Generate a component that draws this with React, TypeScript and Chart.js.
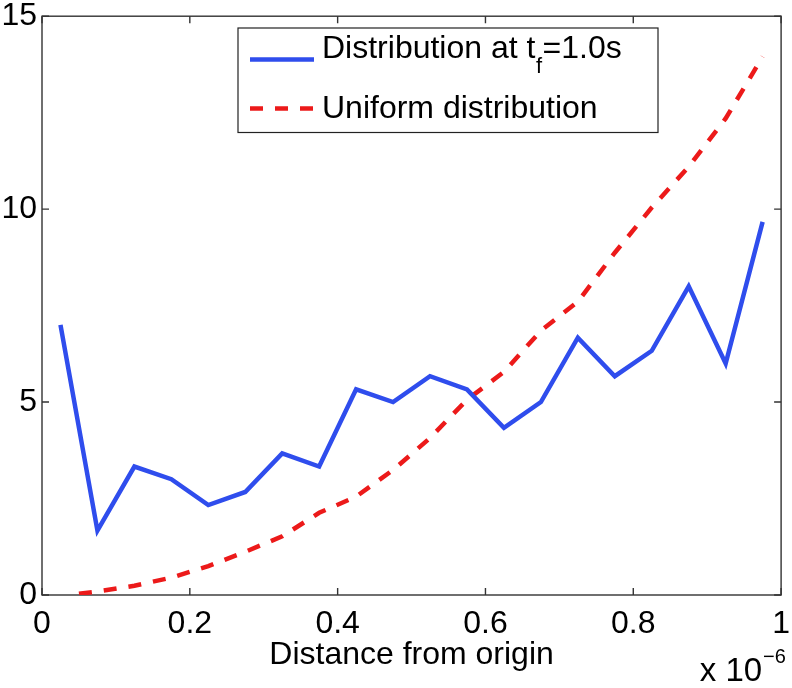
import React, { useEffect, useRef } from 'react';
import { Chart, registerables } from 'chart.js';

Chart.register(...registerables);

// Data (x in units of 1e-6 m)
const blueX = [0.025, 0.075, 0.125, 0.175, 0.225, 0.275, 0.325, 0.375, 0.425, 0.475, 0.525, 0.575, 0.625, 0.675, 0.725, 0.775, 0.825, 0.875, 0.925, 0.975];
const blueY = [7.0, 1.67, 3.33, 3.0, 2.33, 2.67, 3.67, 3.33, 5.33, 5.0, 5.67, 5.33, 4.33, 5.0, 6.67, 5.67, 6.33, 8.0, 6.0, 9.67];
const redX = [0.05, 0.075, 0.125, 0.175, 0.225, 0.275, 0.325, 0.375, 0.425, 0.475, 0.525, 0.575, 0.625, 0.675, 0.725, 0.775, 0.825, 0.875, 0.925, 0.975];
const redY = [0.03, 0.09, 0.24, 0.45, 0.75, 1.12, 1.52, 2.13, 2.55, 3.24, 4.07, 5.06, 5.78, 6.85, 7.6, 8.87, 10.04, 11.1, 12.35, 13.95];
const xTicks = [0, 0.2, 0.4, 0.6, 0.8, 1];
const yTicks = [0, 5, 10, 15];
const seriesLabels = ['Distribution at t_f=1.0s', 'Uniform distribution'];
const xTitle = 'Distance from origin';

const BLUE = '#2f4ded';
const RED = '#ec1a1a';
const FONT = '"Liberation Sans", Arial, Helvetica, sans-serif';
const AXIS = '#333333';
const FS = 32;

const framePlugin = {
  id: 'frame',
  beforeDatasetsDraw(chart: any) {
    const { ctx, chartArea: a, scales } = chart;
    ctx.save();
    ctx.strokeStyle = AXIS;
    ctx.lineWidth = 1.4;
    ctx.strokeRect(a.left, a.top, a.right - a.left, a.bottom - a.top);
    const tl = 7;
    ctx.beginPath();
    xTicks.forEach((v) => {
      const px = scales.x.getPixelForValue(v);
      ctx.moveTo(px, a.bottom);
      ctx.lineTo(px, a.bottom - tl);
      ctx.moveTo(px, a.top);
      ctx.lineTo(px, a.top + tl);
    });
    yTicks.forEach((v) => {
      const py = scales.y.getPixelForValue(v);
      ctx.moveTo(a.left, py);
      ctx.lineTo(a.left + tl, py);
      ctx.moveTo(a.right, py);
      ctx.lineTo(a.right - tl, py);
    });
    ctx.stroke();
    ctx.restore();
  },
  afterDraw(chart: any) {
    const { ctx, chartArea: a } = chart;
    ctx.save();
    // exponent label
    ctx.fillStyle = '#000';
    ctx.textBaseline = 'alphabetic';
    ctx.font = `${FS + 1}px ${FONT}`;
    ctx.textAlign = 'right';
    ctx.fillText('x 10', a.right - 19, 681);
    ctx.font = `20px ${FONT}`;
    ctx.textAlign = 'left';
    ctx.fillText('\u22126', a.right - 18, 663);

    // legend
    const ds = chart.data.datasets;
    const bx = 238, by = 28, bw = 420, bh = 104.5;
    ctx.fillStyle = '#fff';
    ctx.fillRect(bx, by, bw, bh);
    ctx.strokeStyle = '#222';
    ctx.lineWidth = 1.2;
    ctx.strokeRect(bx, by, bw, bh);

    ctx.lineWidth = ds[0].borderWidth;
    ctx.strokeStyle = ds[0].borderColor;
    ctx.setLineDash([]);
    ctx.beginPath();
    ctx.moveTo(250, 59.5);
    ctx.lineTo(314, 59.5);
    ctx.stroke();

    ctx.lineWidth = ds[1].borderWidth;
    ctx.strokeStyle = ds[1].borderColor;
    ctx.setLineDash(ds[1].borderDash);
    ctx.beginPath();
    ctx.moveTo(250, 108.5);
    ctx.lineTo(314, 108.5);
    ctx.stroke();
    ctx.setLineDash([]);

    ctx.fillStyle = '#000';
    ctx.textAlign = 'left';
    ctx.font = `${FS}px ${FONT}`;
    const [main, rest] = seriesLabels[0].split('_');
    const sub = rest.charAt(0);
    const tail = rest.slice(1);
    let tx = 322;
    ctx.fillText(main, tx, 57.5);
    tx += ctx.measureText(main).width + 0.5;
    ctx.font = `22px ${FONT}`;
    ctx.fillText(sub, tx, 73);
    tx += ctx.measureText(sub).width + 0.5;
    ctx.font = `${FS}px ${FONT}`;
    ctx.fillText(tail, tx, 57.5);
    ctx.fillText(seriesLabels[1], 322, 118);
    ctx.restore();
  },
};

export default function App() {
  const ref = useRef<HTMLCanvasElement>(null);
  useEffect(() => {
    document.body.style.margin = '0';
    const canvas = ref.current!;
    const chart = new Chart(canvas, {
      type: 'scatter',
      data: {
        datasets: [
          {
            label: seriesLabels[0],
            data: blueX.map((x, i) => ({ x, y: blueY[i] })),
            showLine: true,
            borderColor: BLUE,
            backgroundColor: BLUE,
            borderWidth: 4.5,
            pointRadius: 0,
            tension: 0,
            fill: false,
          },
          {
            label: seriesLabels[1],
            data: redX.map((x, i) => ({ x, y: redY[i] })),
            showLine: true,
            borderColor: RED,
            backgroundColor: RED,
            borderWidth: 4.5,
            borderDash: [13, 12],
            pointRadius: 0,
            tension: 0,
            fill: false,
          },
        ],
      },
      options: {
        animation: false,
        responsive: false,
        maintainAspectRatio: false,
        layout: { padding: { top: 7, right: 3, left: 0, bottom: 0 } },
        plugins: {
          legend: { display: false },
          tooltip: { enabled: false },
        },
        scales: {
          x: {
            type: 'linear',
            min: 0,
            max: 1,
            grid: { display: false },
            border: { display: false },
            afterFit: (s: any) => { s.height = 93; },
            afterBuildTicks: (s: any) => { s.ticks = xTicks.map((v) => ({ value: v })); },
            ticks: {
              padding: 2,
              color: '#000',
              font: { family: FONT, size: FS },
              maxRotation: 0,
              autoSkip: false,
              callback: (v: any) => String(Number(Number(v).toFixed(1))),
            },
            title: {
              display: true,
              text: xTitle,
              color: '#000',
              font: { family: FONT, size: FS },
              padding: { top: 0, bottom: 14 },
            },
          },
          y: {
            type: 'linear',
            min: 0,
            max: 15,
            grid: { display: false },
            border: { display: false },
            afterFit: (s: any) => { s.width = 42; },
            afterBuildTicks: (s: any) => { s.ticks = yTicks.map((v) => ({ value: v })); },
            ticks: {
              padding: -3,
              color: '#000',
              font: { family: FONT, size: FS },
              autoSkip: false,
              callback: (v: any) => String(v),
            },
          },
        },
      } as any,
      plugins: [framePlugin],
    });
    return () => chart.destroy();
  }, []);
  return (
    <div style={{ width: 792, height: 688, position: 'relative' }}>
      <canvas ref={ref} width={792} height={688} style={{ display: 'block', width: 792, height: 688 }} />
    </div>
  );
}
